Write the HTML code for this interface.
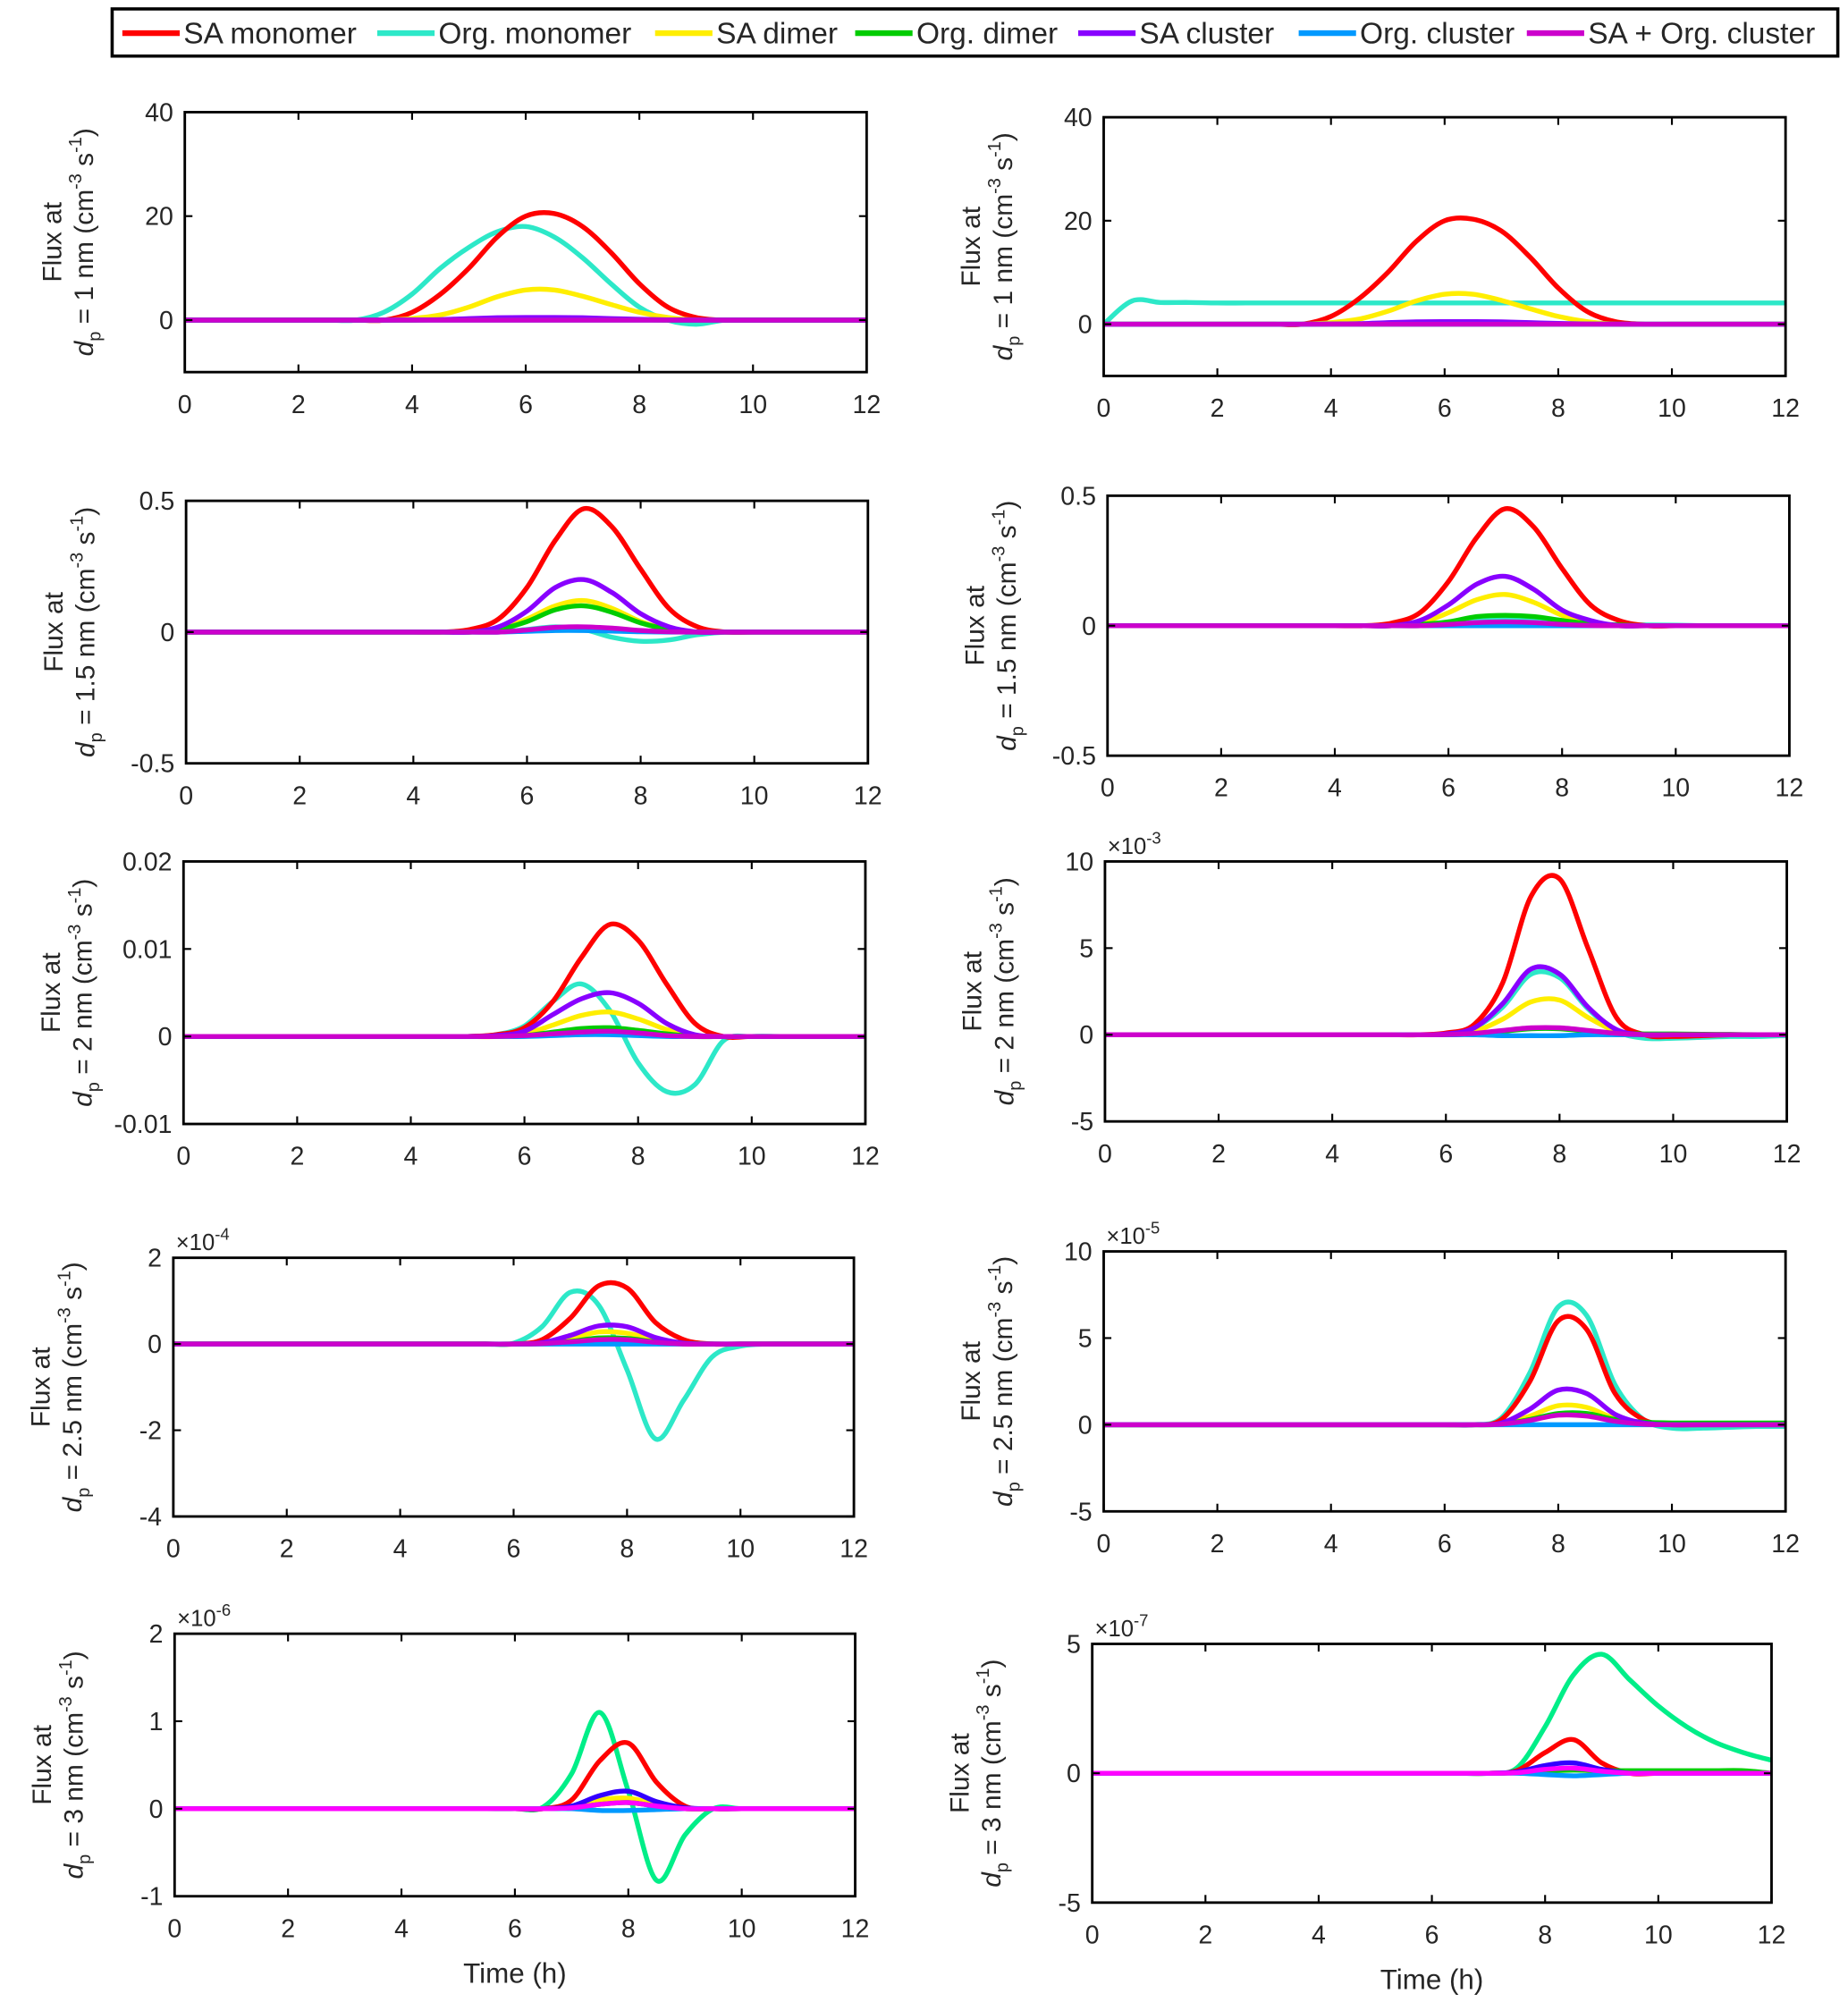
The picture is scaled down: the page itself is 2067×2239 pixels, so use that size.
<!DOCTYPE html>
<html><head><meta charset="utf-8"><style>
html,body{margin:0;padding:0;background:#fff}
svg{display:block}
text{font-family:"Liberation Sans",sans-serif;fill:#262626}
</style></head><body>
<svg id="fig" width="2067" height="2239" viewBox="0 0 1450 1571" preserveAspectRatio="none" xmlns="http://www.w3.org/2000/svg"></svg>
<script>
// time grid (h)
const times = [0,0.5,1,1.5,2,2.5,3,3.5,4,4.5,5,5.5,6,6.5,7,7.5,8,8.5,9,9.5,10,10.5,11,11.5,12];
const seriesNames = ["SA monomer","Org. monomer","SA dimer","Org. dimer","SA cluster","Org. cluster","SA + Org. cluster"];
const seriesColors = ["#ff0000","#2de8c8","#ffee00","#00cc00","#8800ff","#0099ff","#cc00cc"];
const z = n => Array(n).fill(0);
// panel data (values in plotted units)
const p1 = [
 [0,0,0,0,0,0,0,0,1.5,5,10,16,20,20.5,18,13,7,2.5,0.5,0,0,0,0,0,0],
 [0,0,0,0,0,0,0,1.5,5,10,14,17,18,16,12,7,2.5,0,-0.8,0,0,0,0,0,0],
 [0,0,0,0,0,0,0,0,0.3,1,2.5,4.5,5.8,5.8,4.6,3,1.5,0.5,0,0,0,0,0,0,0],
 [0,0,0,0,0,0,0,0,0,0.05,0.1,0.2,0.3,0.3,0.2,0.1,0.05,0,0,0,0,0,0,0,0],
 [0,0,0,0,0,0,0,0,0.05,0.1,0.3,0.45,0.5,0.5,0.45,0.3,0.15,0.05,0,0,0,0,0,0,0],
 z(25), z(25)];
const p2 = [
 [0,0,0,0,0,0,0,0,1.5,5,10,16,20,20.3,18,13,7,2.5,0.5,0,0,0,0,0,0],
 [0,4.5,4.2,4.2,4.1,4.1,4.1,4.1,4.1,4.1,4.1,4.1,4.1,4.1,4.1,4.1,4.1,4.1,4.1,4.1,4.1,4.1,4.1,4.1,4.1],
 [0,0,0,0,0,0,0,0,0.3,1,2.5,4.5,5.8,5.8,4.6,3,1.5,0.5,0,0,0,0,0,0,0],
 z(25),
 [0,0,0,0,0,0,0,0,0.05,0.1,0.3,0.45,0.5,0.5,0.45,0.3,0.15,0.05,0,0,0,0,0,0,0],
 z(25), z(25)];
const p3 = [
 [0,0,0,0,0,0,0,0,0,0,0.01,0.05,0.17,0.35,0.47,0.4,0.24,0.09,0.02,0,0,0,0,0,0],
 [0,0,0,0,0,0,0,0,0,0,0,0,0.01,0.02,0.01,-0.02,-0.035,-0.03,-0.01,0,0,0,0,0,0],
 [0,0,0,0,0,0,0,0,0,0,0,0.01,0.05,0.1,0.12,0.09,0.04,0.01,0,0,0,0,0,0,0],
 [0,0,0,0,0,0,0,0,0,0,0,0.01,0.04,0.085,0.1,0.075,0.035,0.01,0,0,0,0,0,0,0],
 [0,0,0,0,0,0,0,0,0,0,0,0.02,0.08,0.17,0.2,0.15,0.07,0.02,0,0,0,0,0,0,0],
 [0,0,0,0,0,0,0,0,0,0,0,0,0.003,0.006,0.006,0.004,0.001,0,0,0,0,0,0,0,0],
 [0,0,0,0,0,0,0,0,0,0,0,0,0.008,0.018,0.02,0.015,0.006,0.001,0,0,0,0,0,0,0]];
const p4 = [
 [0,0,0,0,0,0,0,0,0,0,0.01,0.05,0.17,0.34,0.45,0.38,0.22,0.08,0.02,0,0,0,0,0,0],
 [0,0,0,0,0,0,0,0,0,0,0,0,0.01,0.025,0.03,0.025,0.015,0.005,0.003,0.003,0.002,0,0,0,0],
 [0,0,0,0,0,0,0,0,0,0,0,0.01,0.05,0.1,0.12,0.09,0.04,0.01,0,0,0,0,0,0,0],
 [0,0,0,0,0,0,0,0,0,0,0,0.005,0.015,0.035,0.04,0.035,0.02,0.008,0.003,0,0,0,0,0,0],
 [0,0,0,0,0,0,0,0,0,0,0,0.02,0.08,0.16,0.19,0.14,0.06,0.02,0,0,0,0,0,0,0],
 z(25),
 [0,0,0,0,0,0,0,0,0,0,0,0,0.005,0.012,0.015,0.012,0.005,0.001,0,0,0,0,0,0,0]];
const p5 = [
 [0,0,0,0,0,0,0,0,0,0,0,0.0002,0.001,0.004,0.009,0.0128,0.011,0.006,0.0015,0,0,0,0,0,0],
 [0,0,0,0,0,0,0,0,0,0,0,0.0002,0.0012,0.004,0.006,0.003,-0.003,-0.0063,-0.0055,-0.0005,0,0,0,0,0],
 [0,0,0,0,0,0,0,0,0,0,0,0,0.0003,0.0013,0.0024,0.0028,0.002,0.0008,0.0001,0,0,0,0,0,0],
 [0,0,0,0,0,0,0,0,0,0,0,0,0.0001,0.0005,0.0009,0.001,0.0007,0.0003,0,0,0,0,0,0,0],
 [0,0,0,0,0,0,0,0,0,0,0,0.0001,0.0006,0.0025,0.0043,0.005,0.0038,0.0015,0.0002,0,0,0,0,0,0],
 [0,0,0,0,0,0,0,0,0,0,0,0,0,0.0001,0.0002,0.0002,0.0001,0,0,0,0,0,0,0,0],
 [0,0,0,0,0,0,0,0,0,0,0,0,0.0001,0.0003,0.0005,0.0006,0.0004,0.0001,0,0,0,0,0,0,0]];
const p6 = [
 [0,0,0,0,0,0,0,0,0,0,0,0,0.1,0.6,3,8,9,5,1,0,-0.1,-0.05,0,0,0],
 [0,0,0,0,0,0,0,0,0,0,0,0,0.05,0.4,1.6,3.5,3.3,1.5,0.2,-0.2,-0.2,-0.15,-0.1,-0.1,-0.05],
 [0,0,0,0,0,0,0,0,0,0,0,0,0.03,0.2,0.9,1.9,2,1,0.2,0,0,0,0,0,0],
 [0,0,0,0,0,0,0,0,0,0,0,0,0.01,0.05,0.2,0.35,0.35,0.2,0.08,0.05,0.05,0.03,0.02,0,0],
 [0,0,0,0,0,0,0,0,0,0,0,0,0.05,0.4,1.8,3.8,3.5,1.6,0.3,0,0,0,0,0,0],
 [0,0,0,0,0,0,0,0,0,0,0,0,0,0,-0.05,-0.05,-0.05,0,0,0,0,0,0,0,0],
 [0,0,0,0,0,0,0,0,0,0,0,0,0.01,0.08,0.25,0.4,0.4,0.25,0.08,0,0,0,0,0,0]];
const p7 = [
 [0,0,0,0,0,0,0,0,0,0,0,0,0,0.1,0.6,1.35,1.3,0.5,0.1,0,0,0,0,0,0],
 [0,0,0,0,0,0,0,0,0,0,0,0,0.02,0.4,1.2,0.9,-0.6,-2.2,-1.3,-0.3,-0.05,0,0,0,0],
 [0,0,0,0,0,0,0,0,0,0,0,0,0,0.02,0.12,0.28,0.25,0.1,0.01,0,0,0,0,0,0],
 [0,0,0,0,0,0,0,0,0,0,0,0,0,0.01,0.06,0.14,0.13,0.05,0.01,0,0,0,0,0,0],
 [0,0,0,0,0,0,0,0,0,0,0,0,0,0.03,0.2,0.42,0.4,0.15,0.02,0,0,0,0,0,0],
 z(25),
 [0,0,0,0,0,0,0,0,0,0,0,0,0,0.01,0.05,0.1,0.1,0.04,0,0,0,0,0,0,0]];
const p8 = [
 [0,0,0,0,0,0,0,0,0,0,0,0,0,0,0.3,2.5,6,5.5,1.8,0.3,0,0,0,0,0],
 [0,0,0,0,0,0,0,0,0,0,0,0,0,0,0.4,3,6.8,6.3,2.3,0.3,-0.2,-0.2,-0.15,-0.1,-0.1],
 [0,0,0,0,0,0,0,0,0,0,0,0,0,0,0.05,0.5,1.1,1,0.35,0.05,0,0,0,0,0],
 [0,0,0,0,0,0,0,0,0,0,0,0,0,0,0.03,0.3,0.65,0.65,0.3,0.15,0.1,0.1,0.1,0.1,0.1],
 [0,0,0,0,0,0,0,0,0,0,0,0,0,0,0.1,0.9,2,1.8,0.6,0.1,0,0,0,0,0],
 z(25),
 [0,0,0,0,0,0,0,0,0,0,0,0,0,0,0.03,0.25,0.55,0.5,0.2,0.03,0,0,0,0,0]];
const p9 = [
 [0,0,0,0,0,0,0,0,0,0,0,0,0,0,0.1,0.55,0.75,0.3,0.03,0,0,0,0,0,0],
 [0,0,0,0,0,0,0,0,0,0,0,0,0,0.02,0.4,1.1,0.2,-0.82,-0.3,0,0,0,0,0,0],
 [0,0,0,0,0,0,0,0,0,0,0,0,0,0,0.02,0.1,0.12,0.05,0,0,0,0,0,0,0],
 [0,0,0,0,0,0,0,0,0,0,0,0,0,0,0.01,0.05,0.07,0.03,0,0,0,0,0,0,0],
 [0,0,0,0,0,0,0,0,0,0,0,0,0,0,0.03,0.15,0.2,0.08,0.01,0,0,0,0,0,0],
 [0,0,0,0,0,0,0,0,0,0,0,0,0,0,0,-0.02,-0.02,-0.01,0,0,0,0,0,0,0],
 [0,0,0,0,0,0,0,0,0,0,0,0,0,0,0.01,0.05,0.07,0.03,0,0,0,0,0,0,0]];
const p10 = [
 [0,0,0,0,0,0,0,0,0,0,0,0,0,0,0,0.1,0.8,1.3,0.4,0,0,0,0,0,0],
 [0,0,0,0,0,0,0,0,0,0,0,0,0,0,0,0.2,1.8,3.8,4.6,3.6,2.6,1.8,1.2,0.8,0.5],
 [0,0,0,0,0,0,0,0,0,0,0,0,0,0,0,0.02,0.1,0.15,0.05,0,0,0,0,0,0],
 [0,0,0,0,0,0,0,0,0,0,0,0,0,0,0,0.02,0.08,0.12,0.1,0.1,0.1,0.1,0.1,0.1,0],
 [0,0,0,0,0,0,0,0,0,0,0,0,0,0,0,0.05,0.3,0.4,0.15,0,0,0,0,0,0],
 [0,0,0,0,0,0,0,0,0,0,0,0,0,0,0,0,-0.05,-0.1,-0.05,0,0,0,0,0,0],
 [0,0,0,0,0,0,0,0,0,0,0,0,0,0,0,0.02,0.15,0.2,0.08,0,0,0,0,0,0]];
const yTicks = [[-10,0,20,40],[-10,0,20,40],[-0.5,0,0.5],[-0.5,0,0.5],[-0.01,0,0.01,0.02],[-5,0,5,10],[-4,-2,0,2],[-5,0,5,10],[-1,0,1,2],[-5,0,5]];
const yTickLabels = [["","0","20","40"],["","0","20","40"],["-0.5","0","0.5"],["-0.5","0","0.5"],["-0.01","0","0.01","0.02"],["-5","0","5","10"],["-4","-2","0","2"],["-5","0","5","10"],["-1","0","1","2"],["-5","0","5"]];
const yRanges = [[-10,40],[-10,40],[-0.5,0.5],[-0.5,0.5],[-0.01,0.02],[-5,10],[-4,2],[-5,10],[-1,2],[-5,5]];
const exps = ["","","","","","-3","-4","-5","-6","-7"];
const sizes = ["1","1","1.5","1.5","2","2","2.5","2.5","3","3"];
const xTicks = [0,2,4,6,8,10,12];
const panelData = [p1,p2,p3,p4,p5,p6,p7,p8,p9,p10];

const boxes = [[145,88,535,204],[866,92,535,203],[146,393,535,206],[869,389,535,204],[144,676,535,206],[867,676,535,204],[136,987,534,203],[866,982,535,204],[137,1282,534,206],[857,1290,533,203]];
const NS="http://www.w3.org/2000/svg";
const svg=document.getElementById('fig');
function mk(tag,attrs,parent){const e=document.createElementNS(NS,tag);for(const k in attrs)e.setAttribute(k,attrs[k]);(parent||svg).appendChild(e);return e;}

// legend
const lg=mk('g',{});


mk('rect',{x:88,y:7,width:1354,height:37,fill:'#fff',stroke:'#000','stroke-width':2.5},lg);
const legX=[96,296,514,671,846,1019,1198];
seriesNames.forEach((n,i)=>{
  const g=mk('g',{},lg);
  
  
  mk('line',{x1:legX[i],x2:legX[i]+45,y1:26,y2:26,stroke:seriesColors[i],'stroke-width':4.5},g);
  const t=mk('text',{x:legX[i]+48,y:34,'font-size':23.5},g);t.textContent=n;
});

function smoothPath(pts){
  let d='M'+pts[0][0].toFixed(2)+','+pts[0][1].toFixed(2);
  for(let i=0;i<pts.length-1;i++){
    const p0=pts[Math.max(0,i-1)],p1=pts[i],p2=pts[i+1],p3=pts[Math.min(pts.length-1,i+2)];
    const c1=[p1[0]+(p2[0]-p0[0])/6,p1[1]+(p2[1]-p0[1])/6];
    const c2=[p2[0]-(p3[0]-p1[0])/6,p2[1]-(p3[1]-p1[1])/6];
    d+=' C'+c1[0].toFixed(2)+','+c1[1].toFixed(2)+' '+c2[0].toFixed(2)+','+c2[1].toFixed(2)+' '+p2[0].toFixed(2)+','+p2[1].toFixed(2);
  }
  return d;
}

boxes.forEach((b,pi)=>{
  const [bx,by,bw,bh]=b;
  const [y0,y1]=yRanges[pi];
  const xs=v=>bx+v/12*bw;
  const ys=v=>by+bh-(v-y0)/(y1-y0)*bh;
  const g=mk('g',{});
  
  
  const cp='clip'+pi;
  const cpe=mk('clipPath',{id:cp},g);mk('rect',{x:bx,y:by,width:bw,height:bh},cpe);
  const bottom=pi>=8;
  const cols=seriesColors.slice();
  if(bottom){cols[1]='#00ee88';cols[4]='#3300ff';cols[6]='#ff00ff';}
  const lines=mk('g',{'clip-path':'url(#'+cp+')'},g);
  const order=[1,0,2,3,4,5,6];
  order.forEach(si=>{
    const vals=panelData[pi][si];
    const pts=times.map((t,k)=>[xs(t),ys(vals[k])]);
    const p=mk('path',{d:smoothPath(pts),fill:'none',stroke:cols[si],'stroke-width':3.8,'stroke-linejoin':'round'},lines);
    
    
  });
  mk('rect',{x:bx,y:by,width:bw,height:bh,fill:'none',stroke:'#000','stroke-width':2},g);
  xTicks.forEach(t=>{
    const x=xs(t);
    mk('line',{x1:x,x2:x,y1:by+bh,y2:by+bh-6,stroke:'#000','stroke-width':1.5},g);
    mk('line',{x1:x,x2:x,y1:by,y2:by+6,stroke:'#000','stroke-width':1.5},g);
    const tx=mk('text',{x:x,y:by+bh+32,'font-size':20,'text-anchor':'middle'},g);tx.textContent=t;
  });
  yTicks[pi].forEach((v,k)=>{
    const y=ys(v);
    mk('line',{x1:bx,x2:bx+6,y1:y,y2:y,stroke:'#000','stroke-width':1.5},g);
    mk('line',{x1:bx+bw,x2:bx+bw-6,y1:y,y2:y,stroke:'#000','stroke-width':1.5},g);
    const tx=mk('text',{x:bx-9,y:y+7,'font-size':20,'text-anchor':'end'},g);tx.textContent=yTickLabels[pi][k];
  });
  if(exps[pi]){
    const tx=mk('text',{x:bx+2,y:by-6,'font-size':18},g);
    tx.innerHTML='×10<tspan dy="-8" font-size="13">'+exps[pi]+'</tspan>';
  }
  const cy=by+bh/2;
  const l1=mk('text',{x:0,y:0,'font-size':21,'text-anchor':'middle',transform:'translate('+(bx-97)+','+cy+') rotate(-90)'},g);
  l1.textContent='Flux at';
  
  
  const l2=mk('text',{x:0,y:0,'font-size':21,'text-anchor':'middle',transform:'translate('+(bx-72)+','+cy+') rotate(-90)'},g);
  l2.innerHTML='<tspan font-style="italic">d</tspan><tspan dy="6" font-size="14">p</tspan><tspan dy="-6"> = '+sizes[pi]+' nm (cm</tspan><tspan dy="-9" font-size="14">-3</tspan><tspan dy="9"> s</tspan><tspan dy="-9" font-size="14">-1</tspan><tspan dy="9">)</tspan>';
  if(bottom){
    const xt=mk('text',{x:bx+bw/2,y:by+bh+68,'font-size':22,'text-anchor':'middle'},g);
    xt.textContent='Time (h)';
    
    
  }
});
</script>
</body></html>
